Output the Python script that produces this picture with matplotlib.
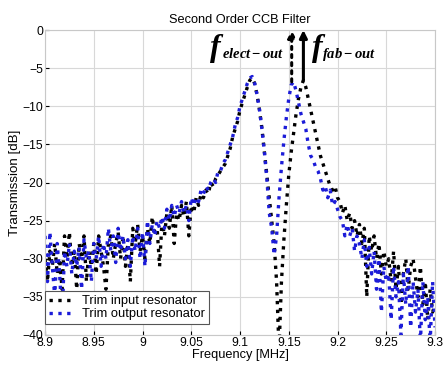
import numpy as np
import matplotlib
matplotlib.use('Agg')
import matplotlib.pyplot as plt

# ---------------------------------------------------------------
# data (dB), 8.9 .. 9.3 MHz in 0.0025 MHz steps
trim_in = [-30, -33, -29, -31, -28, -32, -30, -34, -27, -30,
           -26.5, -31, -29, -34, -28, -30, -27, -33, -29, -31,
           -28, -32, -27, -29, -31, -34, -28, -27, -30, -28,
           -26.5, -30, -27, -31, -28, -33, -26, -28, -25.5, -29,
           -27, -30, -26, -28, -24.5, -27, -26, -31, -25, -27,
           -24, -26, -23, -28, -24, -25, -23, -24.5, -22.5, -27,
           -23, -24, -22, -23, -21.5, -22, -21, -21.5, -20, -20.5,
           -19.5, -19, -18.5, -18, -17.5, -16.5, -15.5, -14, -13, -12,
           -10.5, -9.5, -8.5, -7.5, -6.6, -6.3, -7, -8.5, -10.5, -13,
           -16, -19, -22, -25, -28, -33, -42, -33, -27.5, -23,
           -19, -16, -13.5, -11, -9, -7.5, -6.6, -7.5, -9, -10.5,
           -12, -13.5, -15, -16.5, -17.5, -18.5, -19.5, -20.5, -21, -20.5,
           -22, -22.5, -24, -23, -25, -24, -26, -25, -27, -25.5,
           -28, -26, -35, -27, -29, -27, -30, -28, -32, -29,
           -31, -30, -33, -29, -34, -31, -36, -32, -30, -34,
           -31, -30, -32.5, -35, -31, -36, -33, -38, -34, -37,
           -36]

trim_out = [-27, -33, -26.5, -31, -35, -28, -32, -38, -29, -31,
            -28, -32, -29, -31, -28.5, -34, -27.5, -30, -29, -33,
            -28, -30, -27, -31, -28, -30, -26, -29, -27, -30.5,
            -26, -29, -27, -30, -27.5, -31, -27, -29, -26, -30,
            -26.5, -31, -25, -28, -25.5, -27, -25, -26, -24.5, -26,
            -23.5, -25, -23, -24.5, -23, -24, -22.5, -24, -23, -25,
            -22, -23, -22, -22.5, -21, -21.5, -20.5, -21, -20, -19.5,
            -20, -18.5, -18.5, -17.5, -17, -16, -15, -14, -12.5, -11.5,
            -10, -9, -8, -7, -6.3, -6.1, -7, -8.5, -10.5, -13,
            -16, -19.5, -24, -26, -29.5, -27, -22, -18, -14.5, -11.5,
            -9, -7.2, -6.8, -8, -9.5, -11, -12, -13, -15, -16.5,
            -17, -18, -18.5, -19.5, -21, -20.5, -22, -21, -23, -22.5,
            -23.5, -24.5, -25, -27, -25.5, -27, -26, -29, -27, -28,
            -30, -27.5, -31, -28.5, -32, -29, -34, -30, -37, -31,
            -33, -32, -38, -31, -35, -33, -40, -32, -36, -31,
            -39, -33, -37, -34, -41, -33, -38, -35, -41, -33,
            -39]

f_in = np.linspace(8.9, 9.3, len(trim_in))
f_out = np.linspace(8.9, 9.3, len(trim_out))

# resonance markers (MHz, dB at peak)
f_elect, pk_elect = 9.153, -6.8
f_fab, pk_fab = 9.165, -6.6

xticks = [8.9, 8.95, 9, 9.05, 9.1, 9.15, 9.2, 9.25, 9.3]
xlabels = ['8.9', '8.95', '9', '9.05', '9.1', '9.15', '9.2', '9.25', '9.3']
yticks = [0, -5, -10, -15, -20, -25, -30, -35, -40]

# ---------------------------------------------------------------
plt.rcParams['font.family'] = ['Liberation Sans', 'DejaVu Sans']
plt.rcParams['font.size'] = 8.5
plt.rcParams['mathtext.fontset'] = 'custom'
plt.rcParams['mathtext.it'] = 'Liberation Serif:italic:bold'
plt.rcParams['mathtext.rm'] = 'Liberation Serif:bold'

fig = plt.figure(figsize=(4.43, 3.70), dpi=100)
ax = fig.add_axes([0.1016, 0.0946, 0.8804, 0.8243])

ax.plot(f_in, trim_in, ls=':', lw=2.4, color='black', label='Trim input resonator')
ax.plot(f_out, trim_out, ls=':', lw=2.4, color='#1c1cd8', label='Trim output resonator')

ax.set_xlim(8.9, 9.3)
ax.set_ylim(-40, 0)
ax.set_xticks(xticks)
ax.set_xticklabels(xlabels)
ax.set_yticks(yticks)
ax.tick_params(direction='in', length=3, pad=1.5, labelsize=8.7)
ax.grid(True, color='#d8d8d8', lw=0.8)
ax.set_axisbelow(True)
for s in ax.spines.values():
    s.set_color('#c8c8c8')

ax.set_xlabel('Frequency [MHz]', fontsize=9.2, labelpad=0)
ax.set_ylabel('Transmission [dB]', fontsize=9.6, labelpad=1)
ax.set_title('Second Order CCB Filter', fontsize=9.2, pad=5)

# arrows for the two resonances
ax.annotate('', xy=(f_elect, 0), xytext=(f_elect, pk_elect), annotation_clip=False,
            arrowprops=dict(arrowstyle='-|>', lw=2.2, ls=':', color='black',
                            mutation_scale=11, shrinkA=0, shrinkB=0))
ax.annotate('', xy=(f_fab, 0), xytext=(f_fab, pk_fab), annotation_clip=False,
            arrowprops=dict(arrowstyle='-|>', lw=2.2, color='black',
                            mutation_scale=11, shrinkA=0, shrinkB=0))

# big italic f with small bold-italic subscript
ax.text(9.0692, -3.4, 'f', family='Liberation Serif', style='italic', weight='bold',
        fontsize=23, ha='left', va='baseline')
ax.text(9.0818, -3.7, r'$elect-out$', fontsize=10.5, ha='left', va='baseline')
ax.text(9.1739, -3.4, 'f', family='Liberation Serif', style='italic', weight='bold',
        fontsize=23, ha='left', va='baseline')
ax.text(9.1845, -3.7, r'$fab-out$', fontsize=10.5, ha='left', va='baseline')

leg = ax.legend(loc='lower left', bbox_to_anchor=(0.0, 0.035), borderaxespad=0,
                handlelength=2.0, handletextpad=0.6, borderpad=0.3, labelspacing=0.1,
                fancybox=False, framealpha=1, fontsize=9.3)
leg.get_frame().set_edgecolor('#555555')
leg.get_frame().set_linewidth(0.8)

fig.savefig('out.png', dpi=100)
